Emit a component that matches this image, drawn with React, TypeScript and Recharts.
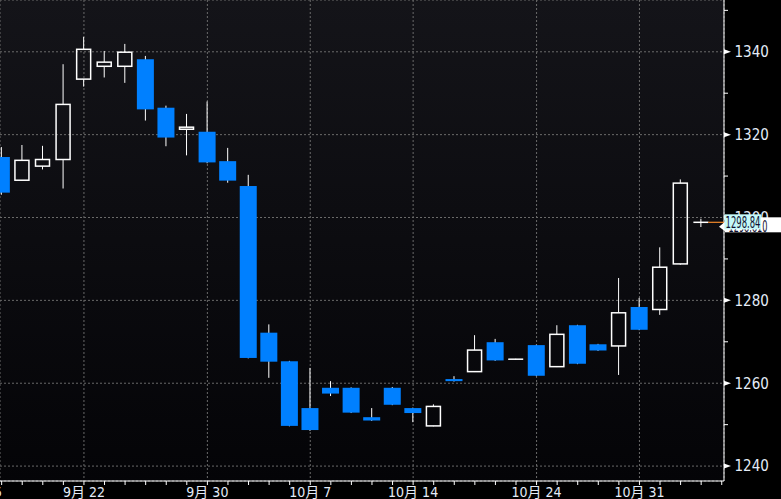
import { Bar, CartesianGrid, ComposedChart, ReferenceLine, XAxis, YAxis } from 'recharts';

// trading days, 9/15 and 11/4 only carry axis ticks
const days = [
  '9月 15', '9月 16', '9月 19', '9月 20', '9月 21', '9月 22', '9月 23', '9月 26', '9月 27', '9月 28', '9月 29', '9月 30',
  '10月 3', '10月 4', '10月 5', '10月 6', '10月 7', '10月 10', '10月 11', '10月 12', '10月 13', '10月 14',
  '10月 17', '10月 18', '10月 19', '10月 20', '10月 21', '10月 24', '10月 25', '10月 26', '10月 27', '10月 28',
  '10月 31', '11月 1', '11月 2', '11月 3', '11月 4',
];
const labeledDays = ['9月 15', '9月 22', '9月 30', '10月 7', '10月 14', '10月 24', '10月 31'];

const opens = [
  null, 1314.6, 1309.0, 1312.4, 1314.0, 1333.4, 1336.5, 1336.5, 1338.2, 1326.5, 1321.3, 1320.7,
  1313.6, 1307.6, 1272.2, 1265.3, 1254.0, 1258.9, 1258.9, 1251.8, 1258.9, 1254.0,
  1249.7, 1261.0, 1262.8, 1269.9, 1265.8, 1269.2, 1264.0, 1274.0, 1269.4, 1269.0,
  1278.4, 1277.8, 1288.8, 1298.84, null,
];
const highs = [
  null, 1317.0, 1317.5, 1317.3, 1337.0, 1343.6, 1340.2, 1341.9, 1339.0, 1327.0, 1325.0, 1328.0,
  1316.8, 1310.3, 1274.2, 1265.4, 1263.7, 1260.5, 1259.0, 1254.0, 1259.1, 1254.1,
  1254.9, 1261.7, 1271.6, 1270.7, 1265.9, 1269.3, 1274.0, 1274.1, 1269.5, 1285.4,
  1280.6, 1292.8, 1309.2, 1299.7, null,
];
const lows = [
  null, 1305.5, 1308.9, 1311.6, 1307.0, 1331.6, 1333.8, 1332.5, 1323.4, 1317.2, 1315.0, 1313.1,
  1308.4, 1266.0, 1261.3, 1249.6, 1248.5, 1256.9, 1252.8, 1250.9, 1254.7, 1250.6,
  1249.6, 1260.4, 1262.7, 1265.4, 1265.7, 1261.7, 1263.9, 1264.6, 1267.8, 1262.0,
  1272.8, 1276.5, 1288.6, 1297.7, null,
];
const closes = [
  null, 1306.0, 1313.8, 1314.0, 1327.3, 1340.6, 1337.5, 1339.9, 1326.1, 1319.3, 1321.8, 1313.3,
  1308.9, 1266.1, 1265.2, 1249.7, 1248.7, 1257.5, 1252.9, 1251.0, 1254.8, 1252.8,
  1254.4, 1260.5, 1268.0, 1265.5, 1265.8, 1261.8, 1271.8, 1264.7, 1267.9, 1277.0,
  1272.9, 1288.0, 1308.3, 1298.84, null,
];

const priceTicks = [1240, 1250, 1260, 1270, 1280, 1290, 1300, 1310, 1320, 1330, 1340, 1350];
const gridPrices = [1240, 1260, 1280, 1300, 1320, 1340];
const lastPrice = 1298.84;
const quoteText = '1298.810';

const xDomain = [0.92, 36.11];
const yDomain = [1236.4, 1352.5];

const data = days.map((day, i) => ({
  i,
  day,
  open: opens[i],
  high: highs[i],
  low: lows[i],
  close: closes[i],
}));
const allIndex = days.map((_, i) => i);
const labeledIndex = allIndex.filter((i) => labeledDays.includes(days[i]));
const lastIndex = closes.findIndex((c) => c === lastPrice);

const FONT = "'Liberation Sans Narrow', 'Arial Narrow', 'DejaVu Sans Condensed', 'Noto Sans CJK SC', sans-serif";
const BLUE = '#0080ff';

function Candle(props: any) {
  const { x, y, width, height, payload } = props;
  if (!payload || payload.open == null) return null;
  const { open, close, high, low } = payload;
  const top = Math.min(y, y + height);
  const bottom = Math.max(y, y + height);
  const span = high - low;
  const toY = (v: number) => (span === 0 ? top : top + ((high - v) / span) * (bottom - top));
  const cx = x + width / 2;
  const oy = toY(open);
  const cy = toY(close);
  const bTop = Math.min(oy, cy);
  const bBot = Math.max(oy, cy);

  if (close < open) {
    return (
      <g>
        <line x1={cx} x2={cx} y1={top} y2={bottom} stroke="#fff" strokeWidth={1} />
        <rect x={cx - 8.5} y={bTop} width={17} height={Math.max(bBot - bTop, 2)} fill={BLUE} />
      </g>
    );
  }
  if (bBot - bTop < 1.5) {
    return (
      <g>
        <line x1={cx} x2={cx} y1={top} y2={bottom} stroke="#fff" strokeWidth={1} />
        <line x1={cx - 7.5} x2={cx + 7.5} y1={cy} y2={cy} stroke="#fff" strokeWidth={1.5} />
      </g>
    );
  }
  return (
    <g>
      <line x1={cx} x2={cx} y1={top} y2={bTop} stroke="#fff" strokeWidth={1} />
      <line x1={cx} x2={cx} y1={bBot} y2={bottom} stroke="#fff" strokeWidth={1} />
      <rect x={cx - 7} y={bTop} width={14} height={bBot - bTop} fill="none" stroke="#fff" strokeWidth={1.5} />
    </g>
  );
}

function DayTick(props: any) {
  const { x, y, payload } = props;
  const label = days[payload.value];
  const show = labeledDays.includes(label);
  return (
    <g>
      <line x1={x} x2={x} y1={y} y2={y + 4} stroke="#fff" strokeWidth={1} />
      {show && (
        <text x={x} y={y + 15.5} textAnchor="middle" fontSize={14} fontFamily={FONT} fill="#e4ecf8">
          {label}
        </text>
      )}
    </g>
  );
}

function PriceTick(props: any) {
  const { x, y, payload } = props;
  const v = payload.value;
  if (v % 20 !== 0) {
    return <line x1={x} x2={x + 4} y1={y} y2={y} stroke="#fff" strokeWidth={1} />;
  }
  return (
    <g>
      <path d={`M${x} ${y - 2.5}L${x + 7} ${y}L${x} ${y + 2.5}Z`} fill="#fff" />
      <text x={x + 10.5} y={y + 5.4} fontSize={15} fontFamily={FONT} fill="#e4ecf8">
        {v}
      </text>
    </g>
  );
}

function LastPriceMark(props: any) {
  const { x1, y1, x2 } = props;
  return (
    <g>
      <line x1={x1 + 7} x2={x2} y1={y1} y2={y1} stroke="#f0882a" strokeWidth={1.2} />
      <path d={`M${x2 - 5} ${y1 + 4.5}L${x2 + 1} ${y1 - 0.5}L${x2 + 1} ${y1 + 9}Z`} fill="#fff" />
      <rect x={x2 + 1} y={y1 - 5} width={60} height={15} fill="#fff" />
      <text x={x2 + 4.5} y={y1 + 9.5} fontSize={15} fontFamily={FONT} fill="#101030" textLength={39} lengthAdjust="spacingAndGlyphs">
        {quoteText}
      </text>
      <rect x={x2 + 0.5} y={y1 - 8} width={36.5} height={15} fill="#c4f8f8" />
      <text x={x2 + 1.5} y={y1 + 5.5} fontSize={15} fontFamily={FONT} fill="#101030" textLength={35} lengthAdjust="spacingAndGlyphs">
        {lastPrice.toFixed(2)}
      </text>
    </g>
  );
}

export default function App() {
  return (
    <div style={{ position: 'absolute', left: 0, top: 0, width: 781, height: 499, background: '#000', overflow: 'hidden' }}>
      <ComposedChart width={781} height={499} data={data} margin={{ top: 0, right: 0, bottom: 0, left: 0 }}>
        <defs>
          <linearGradient id="plotBg" x1="0" y1="0" x2="0" y2="1">
            <stop offset="0%" stopColor="#141419" />
            <stop offset="100%" stopColor="#040407" />
          </linearGradient>
        </defs>
        <XAxis xAxisId="grid" type="number" dataKey="i" domain={xDomain} allowDataOverflow ticks={labeledIndex} hide />
        <YAxis yAxisId="grid" type="number" domain={yDomain} allowDataOverflow ticks={gridPrices} hide />
        <CartesianGrid
          xAxisId="grid"
          yAxisId="grid"
          stroke="#6a6a6a"
          strokeDasharray="2 2"
          fill="url(#plotBg)"
          fillOpacity={1}
        />
        <XAxis
          type="number"
          dataKey="i"
          domain={xDomain}
          allowDataOverflow
          ticks={allIndex}
          interval={0}
          tick={<DayTick />}
          tickLine={false}
          tickSize={0}
          tickMargin={0}
          axisLine={{ stroke: '#fff', strokeWidth: 1 }}
          height={18}
        />
        <YAxis
          yAxisId="price"
          orientation="right"
          type="number"
          domain={yDomain}
          allowDataOverflow
          ticks={priceTicks}
          interval={0}
          tick={<PriceTick />}
          tickLine={false}
          tickSize={0}
          tickMargin={0}
          axisLine={{ stroke: '#fff', strokeWidth: 1 }}
          width={57}
        />
        <Bar
          yAxisId="price"
          dataKey={(d: any) => (d.open == null ? null : [d.low, d.high])}
          barSize={18}
          shape={<Candle />}
          isAnimationActive={false}
        />
        <ReferenceLine
          yAxisId="price"
          segment={[{ x: lastIndex, y: lastPrice }, { x: xDomain[1], y: lastPrice }]}
          ifOverflow="visible"
          shape={<LastPriceMark />}
          zIndex={2000}
        />
      </ComposedChart>
    </div>
  );
}
